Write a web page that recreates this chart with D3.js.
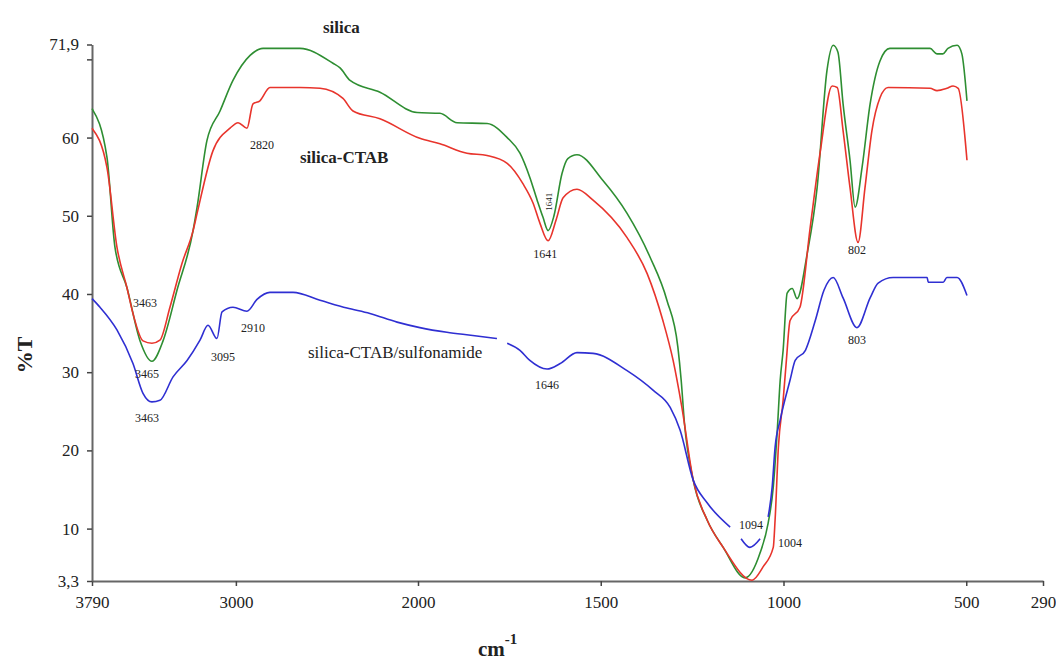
<!DOCTYPE html>
<html>
<head>
<meta charset="utf-8">
<script src="https://cdn.jsdelivr.net/npm/d3@7"></script>
<style>
  body { margin: 0; background: #fff; }
  svg { display: block; }
  text { font-family: "Liberation Serif", "Times New Roman", serif; fill: #222; }
</style>
</head>
<body>
<svg id="chart" width="1056" height="662"></svg>
<script>
const xTicks = [3790, 3000, 2000, 1500, 1000, 500, 290];
const yTicks = [3.3, 10, 20, 30, 40, 50, 60, 70, 71.9];

// [wavenumber cm-1, %T]
const silica = [
  [3790, 63.7], [3708, 57.5], [3664, 46], [3598, 40.8], [3526, 34], [3461, 31.4],
  [3400, 34], [3323, 40.5], [3235, 48.1], [3213, 51.1], [3159, 59.6], [3087, 63.4],
  [3016, 67.3], [2922, 70.5], [2851, 71.4], [2648, 71.4], [2467, 69.5], [2428, 68.9],
  [2373, 67.3], [2209, 65.8], [2005, 63.2], [1940, 63.1], [1893, 61.9], [1811, 61.8],
  [1756, 60], [1721, 58], [1694, 54.9], [1674, 52], [1658, 49.8], [1644, 48.1],
  [1628, 50], [1606, 55.4], [1590, 57.3], [1565, 57.8], [1494, 54.5], [1428, 50.3],
  [1365, 44.7], [1319, 39.2], [1289, 33.2], [1280, 29], [1271, 23.5], [1247, 16.2],
  [1209, 11.1], [1165, 7.6], [1105, 3.7], [1064, 6.9], [1042, 10.7], [1028, 15.3],
  [1017, 22.6], [1009, 29], [1001, 32.8], [990, 40.1], [976, 40.7], [963, 39.4],
  [935, 45.2], [908, 53.6], [881, 68.6], [864, 71.8], [851, 70.9], [837, 64.3],
  [818, 57.1], [804, 51.1], [785, 56.2], [763, 64.3], [736, 69.8], [709, 71.4],
  [599, 71.4], [580, 70.7], [564, 70.7], [550, 71.4], [525, 71.8], [512, 70.7], [498, 64.7]
];

const silicaCtab = [
  [3790, 61.2], [3708, 56.2], [3653, 46], [3598, 40.8], [3565, 37.5], [3510, 34],
  [3461, 33.7], [3417, 34.1], [3362, 38.3], [3296, 43.9], [3235, 48.1], [3213, 50.3],
  [3126, 58.3], [3032, 61.2], [2988, 61.9], [2939, 61.2], [2906, 64.3], [2868, 64.7],
  [2813, 66.4], [2648, 66.4], [2538, 66.3], [2412, 65], [2357, 63.4], [2209, 62.4],
  [1995, 59.9], [1940, 59.2], [1866, 58], [1811, 57.7], [1756, 56.7], [1713, 54.1],
  [1685, 51.6], [1666, 49], [1644, 46.8], [1622, 49.5], [1603, 52.3], [1565, 53.4],
  [1521, 52], [1428, 47.2], [1373, 42.6], [1330, 36.6], [1302, 31.5], [1278, 25.5],
  [1247, 16.2], [1209, 11.1], [1165, 7.6], [1086, 3.4], [1056, 5.1], [1028, 7.6],
  [1023, 11.1], [1014, 20.4], [1001, 26.4], [993, 31], [982, 36.6], [955, 38.3],
  [927, 48.5], [900, 58], [867, 66.6], [853, 66.4], [837, 60.9], [818, 53.6],
  [796, 46.6], [777, 53.6], [758, 60.9], [736, 65.1], [714, 66.4], [599, 66.3],
  [580, 66], [553, 66.3], [536, 66.6], [522, 66.3], [498, 57.1]
];

const silicaCtabSulfonamide = [
  [3790, 39.4], [3746, 38.3], [3653, 35.4], [3565, 31.1], [3510, 27.3], [3461, 26.2],
  [3417, 26.4], [3345, 29.4], [3268, 31.5], [3197, 34.1], [3153, 36], [3104, 34.3],
  [3076, 37.7], [3016, 38.3], [2939, 37.8], [2884, 39.3], [2813, 40.2], [2686, 40.2],
  [2538, 39.2], [2390, 38.2], [2264, 37.5], [2115, 36.4], [1995, 35.7], [1921, 35.1],
  [1850, 34.7], [1784, 34.3], [1770, null], [1756, 33.7], [1721, 32.8], [1694, 31.5],
  [1647, 30.4], [1611, 31.1], [1565, 32.5], [1521, 32.4], [1428, 30.2], [1357, 27.7],
  [1310, 25.5], [1283, 22.6], [1247, 16.2], [1209, 13.3], [1146, 10.2], [1130, null],
  [1116, 8.7], [1092, 7.6], [1064, 8.7], [1052, null], [1042, 11.5], [1031, 15.3],
  [1023, 20.4], [1009, 23.9], [982, 29], [968, 31.5], [940, 32.8], [913, 36.6],
  [889, 40.5], [864, 42.1], [837, 39.5], [799, 35.7], [763, 39.5], [741, 41.4],
  [700, 42.1], [607, 42.1], [604, 41.5], [563, 41.5], [553, 42.1], [525, 42.1], [498, 39.8]
];

// [text, wavenumber, %T] — centre / baseline of each peak label
const peakLabels = [
  ["3463", 3499, 38.3], ["3465", 3488, 29.3], ["3463", 3488, 23.6],
  ["3095", 3071, 31.4], ["2910", 2906, 35.2], ["2820", 2857, 58.5],
  ["1641", 1652, 44.6], ["1646", 1647, 27.8], ["802", 799, 45.1],
  ["803", 799, 33.6], ["1094", 1089, 9.9], ["1004", 982, 7.6]
];

// [text, wavenumber, %T, weight] — left / baseline of each series name
const seriesLabels = [
  ["silica", 2522, 73.4, 700], ["silica-CTAB", 2648, 56.8, 700],
  ["silica-CTAB/sulfonamide", 2604, 31.8, 400]
];

const seriesColors = ["#2e8e32", "#e8342c", "#2f2fd2"];

const svg = d3.select("#chart");
const x = d3.scaleLinear().domain([3790, 2000, 290]).range([92, 418, 1043]);
const y = d3.scaleLinear().domain([3.3, 71.9]).range([581, 44.5]);

const xAxis = svg.append("g")
  .attr("transform", `translate(0,${y(3.3)})`)
  .call(d3.axisBottom(x).tickValues(xTicks).tickSize(5).tickSizeOuter(0).tickFormat(d3.format("d")));
const yAxis = svg.append("g")
  .attr("transform", `translate(${x(3790)},0)`)
  .call(d3.axisLeft(y).tickValues(yTicks).tickSize(5).tickSizeOuter(0)
    .tickFormat((d) => d === 70 ? "" : String(d).replace(".", ",")));

for (const axis of [xAxis, yAxis]) {
  axis.select(".domain").attr("stroke", "#666").attr("stroke-width", 2);
  axis.selectAll(".tick line").attr("stroke", "#444").attr("stroke-width", 1.5);
  axis.selectAll(".tick text")
    .attr("font-family", "Liberation Serif, serif")
    .attr("font-size", 17)
    .attr("fill", "#333");
}
xAxis.selectAll(".tick text").attr("dy", "1.1em");
yAxis.selectAll(".tick text").attr("dx", "-0.3em");

const line = d3.line()
  .defined((d) => d[1] !== null)
  .x((d) => x(d[0]))
  .y((d) => y(d[1]))
  .curve(d3.curveMonotoneX);

[silica, silicaCtab, silicaCtabSulfonamide].forEach((series, index) => {
  svg.append("path")
    .datum(series)
    .attr("fill", "none")
    .attr("stroke", seriesColors[index])
    .attr("stroke-width", 1.6)
    .attr("stroke-linejoin", "round")
    .attr("d", line);
});

svg.append("g")
  .selectAll("text")
  .data(peakLabels)
  .join("text")
  .attr("x", (d) => x(d[1]))
  .attr("y", (d) => y(d[2]))
  .attr("text-anchor", "middle")
  .attr("font-size", 12)
  .attr("fill", "#333")
  .text((d) => d[0]);

// vertical copy of the 1641 label inside the silica dip
svg.append("text")
  .attr("transform", `translate(${x(1644) + 4},${y(51.8)}) rotate(-90)`)
  .attr("text-anchor", "middle")
  .attr("font-size", 9)
  .attr("fill", "#333")
  .text("1641");

svg.append("g")
  .selectAll("text")
  .data(seriesLabels)
  .join("text")
  .attr("x", (d) => x(d[1]))
  .attr("y", (d) => y(d[2]))
  .attr("font-size", 17)
  .attr("font-weight", (d) => d[3])
  .attr("fill", "#222")
  .text((d) => d[0]);

svg.append("text")
  .attr("transform", "translate(32,355) rotate(-90)")
  .attr("text-anchor", "middle")
  .attr("font-size", 22)
  .attr("font-weight", 700)
  .text("%T");

const unit = svg.append("text")
  .attr("x", 478)
  .attr("y", 656)
  .attr("font-size", 21)
  .attr("font-weight", 700);
unit.append("tspan").text("cm");
unit.append("tspan").attr("dy", -12).attr("font-size", 15).text("-1");
</script>
</body>
</html>
